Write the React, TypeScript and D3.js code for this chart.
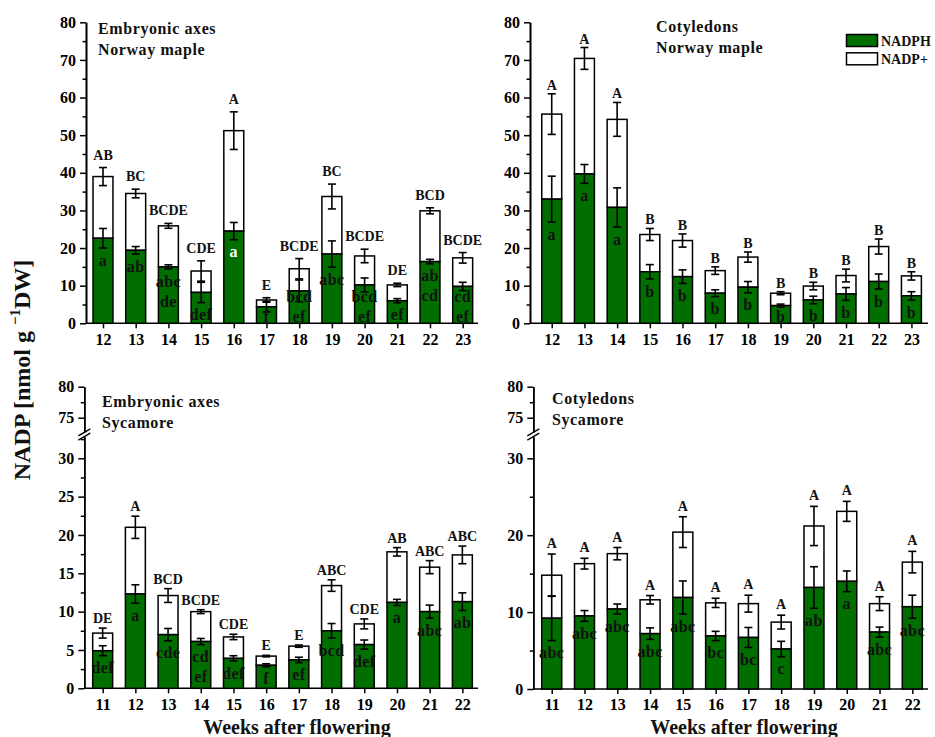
import React, { useEffect, useRef } from 'react';
import * as d3 from 'd3';

// weeks after flowering (x categories)
const weeksNorway = ['12', '13', '14', '15', '16', '17', '18', '19', '20', '21', '22', '23'];
const weeksSycamore = ['11', '12', '13', '14', '15', '16', '17', '18', '19', '20', '21', '22'];

// Embryonic axes, Norway maple
const eaNmNadph = [22.6, 19.4, 15.0, 8.2, 24.5, 4.4, 8.6, 18.4, 10.2, 6.0, 16.4, 9.8];
const eaNmNadphErr = [2.6, 1.0, 0.55, 2.7, 2.3, 1.4, 2.9, 3.5, 1.85, 0.55, 0.6, 1.1];
const eaNmNadpPlus = [16.4, 15.1, 10.9, 5.7, 26.7, 1.8, 5.9, 15.3, 7.7, 4.2, 13.5, 7.6];
const eaNmTotalErr = [2.4, 1.15, 0.65, 2.7, 5.0, 0.6, 2.7, 3.3, 1.8, 0.45, 0.8, 1.4];
const eaNmUpper = ['AB', 'BC', 'BCDE', 'CDE', 'A', 'E', 'BCDE', 'BC', 'BCDE', 'DE', 'BCD', 'BCDE'];
const eaNmLower = ['a', 'ab', 'abc\nde', 'def', 'a', 'f', 'bcd\nef', 'abc', 'bcd\nef', 'ef', 'ab\ncd', 'cd\nef'];

// Cotyledons, Norway maple
const coNmNadph = [33.0, 39.7, 30.8, 13.7, 12.4, 8.0, 9.6, 4.7, 6.2, 7.8, 11.1, 7.3];
const coNmNadphErr = [6.1, 2.5, 5.2, 1.9, 1.8, 0.9, 1.5, 0.4, 1.0, 1.7, 2.0, 1.1];
const coNmNadpPlus = [22.6, 30.7, 23.4, 9.9, 9.6, 6.0, 8.0, 3.3, 3.7, 4.9, 9.3, 5.3];
const coNmTotalErr = [5.4, 2.9, 4.5, 1.6, 1.75, 1.0, 1.35, 0.4, 1.0, 1.7, 2.0, 1.1];
const coNmUpper = ['A', 'A', 'A', 'B', 'B', 'B', 'B', 'B', 'B', 'B', 'B', 'B'];
const coNmLower = ['a', 'a', 'a', 'b', 'b', 'b', 'b', 'b', 'b', 'b', 'b', 'b'];

// Embryonic axes, Sycamore
const eaSyNadph = [4.9, 12.3, 7.0, 6.1, 3.9, 3.0, 3.7, 7.5, 5.7, 11.2, 10.0, 11.3];
const eaSyNadphErr = [0.65, 1.2, 0.8, 0.4, 0.35, 0.2, 0.35, 0.95, 0.6, 0.4, 0.85, 1.15];
const eaSyNadpPlus = [2.3, 8.7, 5.1, 3.9, 2.8, 1.2, 1.8, 5.9, 2.7, 6.6, 5.8, 6.1];
const eaSyTotalErr = [0.65, 1.45, 0.9, 0.25, 0.35, 0.1, 0.15, 0.75, 0.65, 0.55, 0.85, 1.15];
const eaSyUpper = ['DE', 'A', 'BCD', 'BCDE', 'CDE', 'E', 'E', 'ABC', 'CDE', 'AB', 'ABC', 'ABC'];
const eaSyLower = ['def', 'a', 'cde', 'cd\nef', 'def', 'f', 'ef', 'bcd', 'def', 'a', 'abc', 'ab'];

// Cotyledons, Sycamore
const coSyNadph = [9.2, 9.5, 10.4, 7.2, 11.9, 6.9, 6.7, 5.2, 13.2, 14.0, 7.4, 10.7];
const coSyNadphErr = [2.9, 0.7, 0.65, 0.75, 2.15, 0.6, 1.3, 1.0, 2.7, 1.35, 0.65, 1.5];
const coSyNadpPlus = [5.6, 6.8, 7.2, 4.4, 8.5, 4.3, 4.4, 3.5, 8.0, 9.1, 3.7, 5.8];
const coSyTotalErr = [2.75, 0.7, 0.8, 0.55, 2.0, 0.6, 1.1, 0.9, 2.55, 1.3, 0.9, 1.4];
const coSyUpper = ['A', 'A', 'A', 'A', 'A', 'A', 'A', 'A', 'A', 'A', 'A', 'A'];
const coSyLower = ['abc', 'abc', 'abc', 'abc', 'abc', 'bc', 'bc', 'c', 'ab', 'a', 'abc', 'abc'];

const GREEN = '#006f00';
const FONT = '"Liberation Serif", "Times New Roman", serif';

const panels = [
  {
    title: ['Embryonic axes', 'Norway maple'], titleX: 98, titleY: 34,
    weeks: weeksNorway, nadph: eaNmNadph, nadphErr: eaNmNadphErr, plus: eaNmNadpPlus, totalErr: eaNmTotalErr,
    upper: eaNmUpper, lower: eaNmLower, whiteLower: [4],
    x0: 86, x1: 478, pad: 0.494, align: 0.526, base: 323.3, top: 22.3, broken: false, upperGap: 8,
  },
  {
    title: ['Cotyledons', 'Norway maple'], titleX: 656, titleY: 32,
    weeks: weeksNorway, nadph: coNmNadph, nadphErr: coNmNadphErr, plus: coNmNadpPlus, totalErr: coNmTotalErr,
    upper: coNmUpper, lower: coNmLower, whiteLower: [],
    x0: 530, x1: 928, pad: 0.586, align: 0.567, base: 323.3, top: 22.3, broken: false, upperGap: 4,
  },
  {
    title: ['Embryonic axes', 'Sycamore'], titleX: 102, titleY: 407,
    weeks: weeksSycamore, nadph: eaSyNadph, nadphErr: eaSyNadphErr, plus: eaSyNadpPlus, totalErr: eaSyTotalErr,
    upper: eaSyUpper, lower: eaSyLower, whiteLower: [],
    x0: 84.3, x1: 478, pad: 0.52, align: 0.54, base: 688.3, top: 386.7, broken: true, upperGap: 5,
    majorStep: 5,
  },
  {
    title: ['Cotyledons', 'Sycamore'], titleX: 552, titleY: 404,
    weeks: weeksSycamore, nadph: coSyNadph, nadphErr: coSyNadphErr, plus: coSyNadpPlus, totalErr: coSyTotalErr,
    upper: coSyUpper, lower: coSyLower, whiteLower: [],
    x0: 533.3, x1: 928, pad: 0.52, align: 0.54, base: 689, top: 386.7, broken: true, upperGap: 6,
    majorStep: 10,
  },
];

const styleAxis = (g: any) => {
  g.select('.domain').attr('stroke', '#000').attr('stroke-width', 1.6);
  g.selectAll('.tick line').attr('stroke', '#000').attr('stroke-width', 1.5);
  g.selectAll('.tick text')
    .attr('font-family', FONT)
    .attr('font-weight', 'bold')
    .attr('font-size', 16)
    .attr('fill', '#000');
};

const App = () => {
  const ref = useRef<SVGSVGElement | null>(null);

  useEffect(() => {
    const svg = d3.select(ref.current);
    svg.selectAll('*').remove();

    panels.forEach((p: any) => {
      const g = svg.append('g');

      const x = d3.scalePoint<string>()
        .domain(p.weeks)
        .range([p.x0, p.x1])
        .padding(p.pad)
        .align(p.align);
      const barW = x.step() * 0.61;

      // y scale (lower segment for broken axes)
      let y: d3.ScaleLinear<number, number>;
      if (!p.broken) {
        y = d3.scaleLinear().domain([0, 80]).range([p.base, p.top]);
        const major = d3.range(0, 81, 10);
        const minor = d3.range(5, 80, 10);
        g.append('g')
          .attr('transform', `translate(${p.x0},0)`)
          .call(d3.axisLeft(y).tickValues(minor).tickSize(3.5).tickSizeOuter(0).tickFormat(() => ''))
          .call(styleAxis);
        g.append('g')
          .attr('transform', `translate(${p.x0},0)`)
          .call(d3.axisLeft(y).tickValues(major).tickSize(6).tickPadding(4).tickSizeOuter(0))
          .call(styleAxis);
      } else {
        const perUnit = (p.base - 458.3) / 30;
        const lowTop = 32.8;
        y = d3.scaleLinear().domain([0, lowTop]).range([p.base, p.base - lowTop * perUnit]);
        const up = d3.scaleLinear().domain([72.7, 80]).range([432, p.top]);
        const major = d3.range(0, 31, p.majorStep);
        const minor = d3.range(p.majorStep / 2, lowTop, p.majorStep);
        g.append('g')
          .attr('transform', `translate(${p.x0},0)`)
          .call(d3.axisLeft(y).tickValues(minor).tickSize(3.5).tickSizeOuter(0).tickFormat(() => ''))
          .call(styleAxis);
        g.append('g')
          .attr('transform', `translate(${p.x0},0)`)
          .call(d3.axisLeft(y).tickValues(major).tickSize(6).tickPadding(4).tickSizeOuter(0))
          .call(styleAxis);
        g.append('g')
          .attr('transform', `translate(${p.x0},0)`)
          .call(d3.axisLeft(up).tickValues([77.5]).tickSize(3.5).tickSizeOuter(0).tickFormat(() => ''))
          .call(styleAxis);
        g.append('g')
          .attr('transform', `translate(${p.x0},0)`)
          .call(d3.axisLeft(up).tickValues([75, 80]).tickSize(6).tickPadding(4).tickSizeOuter(0))
          .call(styleAxis);
        // break marks
        const yb = 434.5;
        [-2.2, 2.2].forEach(off => {
          g.append('line')
            .attr('x1', p.x0 - 6).attr('y1', yb + off + 3.5)
            .attr('x2', p.x0 + 6).attr('y2', yb + off - 3.5)
            .attr('stroke', '#000').attr('stroke-width', 1.4);
        });
      }

      // x axis
      const xAxis = g.append('g')
        .attr('transform', `translate(0,${p.base})`)
        .call(d3.axisBottom(x).tickSize(5).tickPadding(5).tickSizeOuter(0))
        .call(styleAxis);
      xAxis.select('.domain').attr('d', `M${p.x0},0H${p.x1}`);

      // bars
      p.weeks.forEach((w: string, i: number) => {
        const cx = x(w) as number;
        const v = p.nadph[i];
        const tot = v + p.plus[i];
        g.append('rect')
          .attr('x', cx - barW / 2).attr('width', barW)
          .attr('y', y(tot)).attr('height', y(v) - y(tot))
          .attr('fill', '#fff').attr('stroke', '#000').attr('stroke-width', 1.5);
        g.append('rect')
          .attr('x', cx - barW / 2).attr('width', barW)
          .attr('y', y(v)).attr('height', y(0) - y(v))
          .attr('fill', GREEN).attr('stroke', '#000').attr('stroke-width', 1.5);

        // error bars
        const errBar = (val: number, e: number) => {
          const a = y(val + e);
          const b = y(val - e);
          g.append('line').attr('x1', cx).attr('x2', cx).attr('y1', a).attr('y2', b)
            .attr('stroke', '#000').attr('stroke-width', 1.6);
          [a, b].forEach(yy => {
            g.append('line').attr('x1', cx - 4).attr('x2', cx + 4).attr('y1', yy).attr('y2', yy)
              .attr('stroke', '#000').attr('stroke-width', 1.6);
          });
        };
        errBar(v, p.nadphErr[i]);
        errBar(tot, p.totalErr[i]);

        // uppercase letters above
        g.append('text')
          .attr('x', cx).attr('y', y(tot + p.totalErr[i]) - p.upperGap)
          .attr('text-anchor', 'middle')
          .attr('font-family', FONT).attr('font-weight', 'bold').attr('font-size', 14)
          .attr('fill', '#111')
          .text(p.upper[i]);

        // lowercase letters inside green bar
        const lines = p.lower[i].split('\n');
        let first = y(v - p.nadphErr[i]) + 12;
        const last = first + (lines.length - 1) * 20;
        const limit = p.base - 7;
        if (last > limit) first -= last - limit;
        lines.forEach((t: string, k: number) => {
          g.append('text')
            .attr('x', cx).attr('y', first + k * 20)
            .attr('dy', '0.35em')
            .attr('text-anchor', 'middle')
            .attr('font-family', FONT).attr('font-weight', 'bold').attr('font-size', 16)
            .attr('letter-spacing', 0.4)
            .attr('fill', p.whiteLower.includes(i) ? '#fff' : '#111')
            .text(t);
        });
      });

      // panel title
      p.title.forEach((t: string, k: number) => {
        g.append('text')
          .attr('x', p.titleX).attr('y', p.titleY + k * 21)
          .attr('font-family', FONT).attr('font-weight', 'bold').attr('font-size', 16)
          .attr('letter-spacing', 0.6)
          .attr('fill', '#111')
          .text(t);
      });
    });

    // legend
    const legend = [
      { name: 'NADPH', fill: GREEN },
      { name: 'NADP+', fill: '#fff' },
    ];
    legend.forEach((d, k) => {
      svg.append('rect')
        .attr('x', 846.5).attr('y', 34.5 + k * 18.3).attr('width', 31).attr('height', 12)
        .attr('fill', d.fill).attr('stroke', '#000').attr('stroke-width', 1.5);
      svg.append('text')
        .attr('x', 881).attr('y', 45.5 + k * 18.3)
        .attr('font-family', FONT).attr('font-weight', 'bold').attr('font-size', 14)
        .attr('fill', '#111')
        .text(d.name);
    });

    // axis titles
    [297, 744].forEach(cx => {
      svg.append('text')
        .attr('x', cx).attr('y', 734)
        .attr('text-anchor', 'middle')
        .attr('font-family', FONT).attr('font-weight', 'bold').attr('font-size', 20)
        .attr('fill', '#111')
        .text('Weeks after flowering');
    });

    const yl = svg.append('text')
      .attr('transform', 'translate(30,370) rotate(-90)')
      .attr('text-anchor', 'middle')
      .attr('font-family', FONT).attr('font-weight', 'bold').attr('font-size', 24)
      .attr('fill', '#111');
    yl.append('tspan').text('NADP [nmol g ');
    yl.append('tspan').attr('font-size', 15).attr('dy', -10).text('−1');
    yl.append('tspan').attr('dy', 10).text('DW]');
  }, []);

  return (
    <svg
      ref={ref}
      width={935}
      height={737}
      style={{ position: 'absolute', left: 0, top: 0, background: '#fff' }}
    />
  );
};

export default App;
